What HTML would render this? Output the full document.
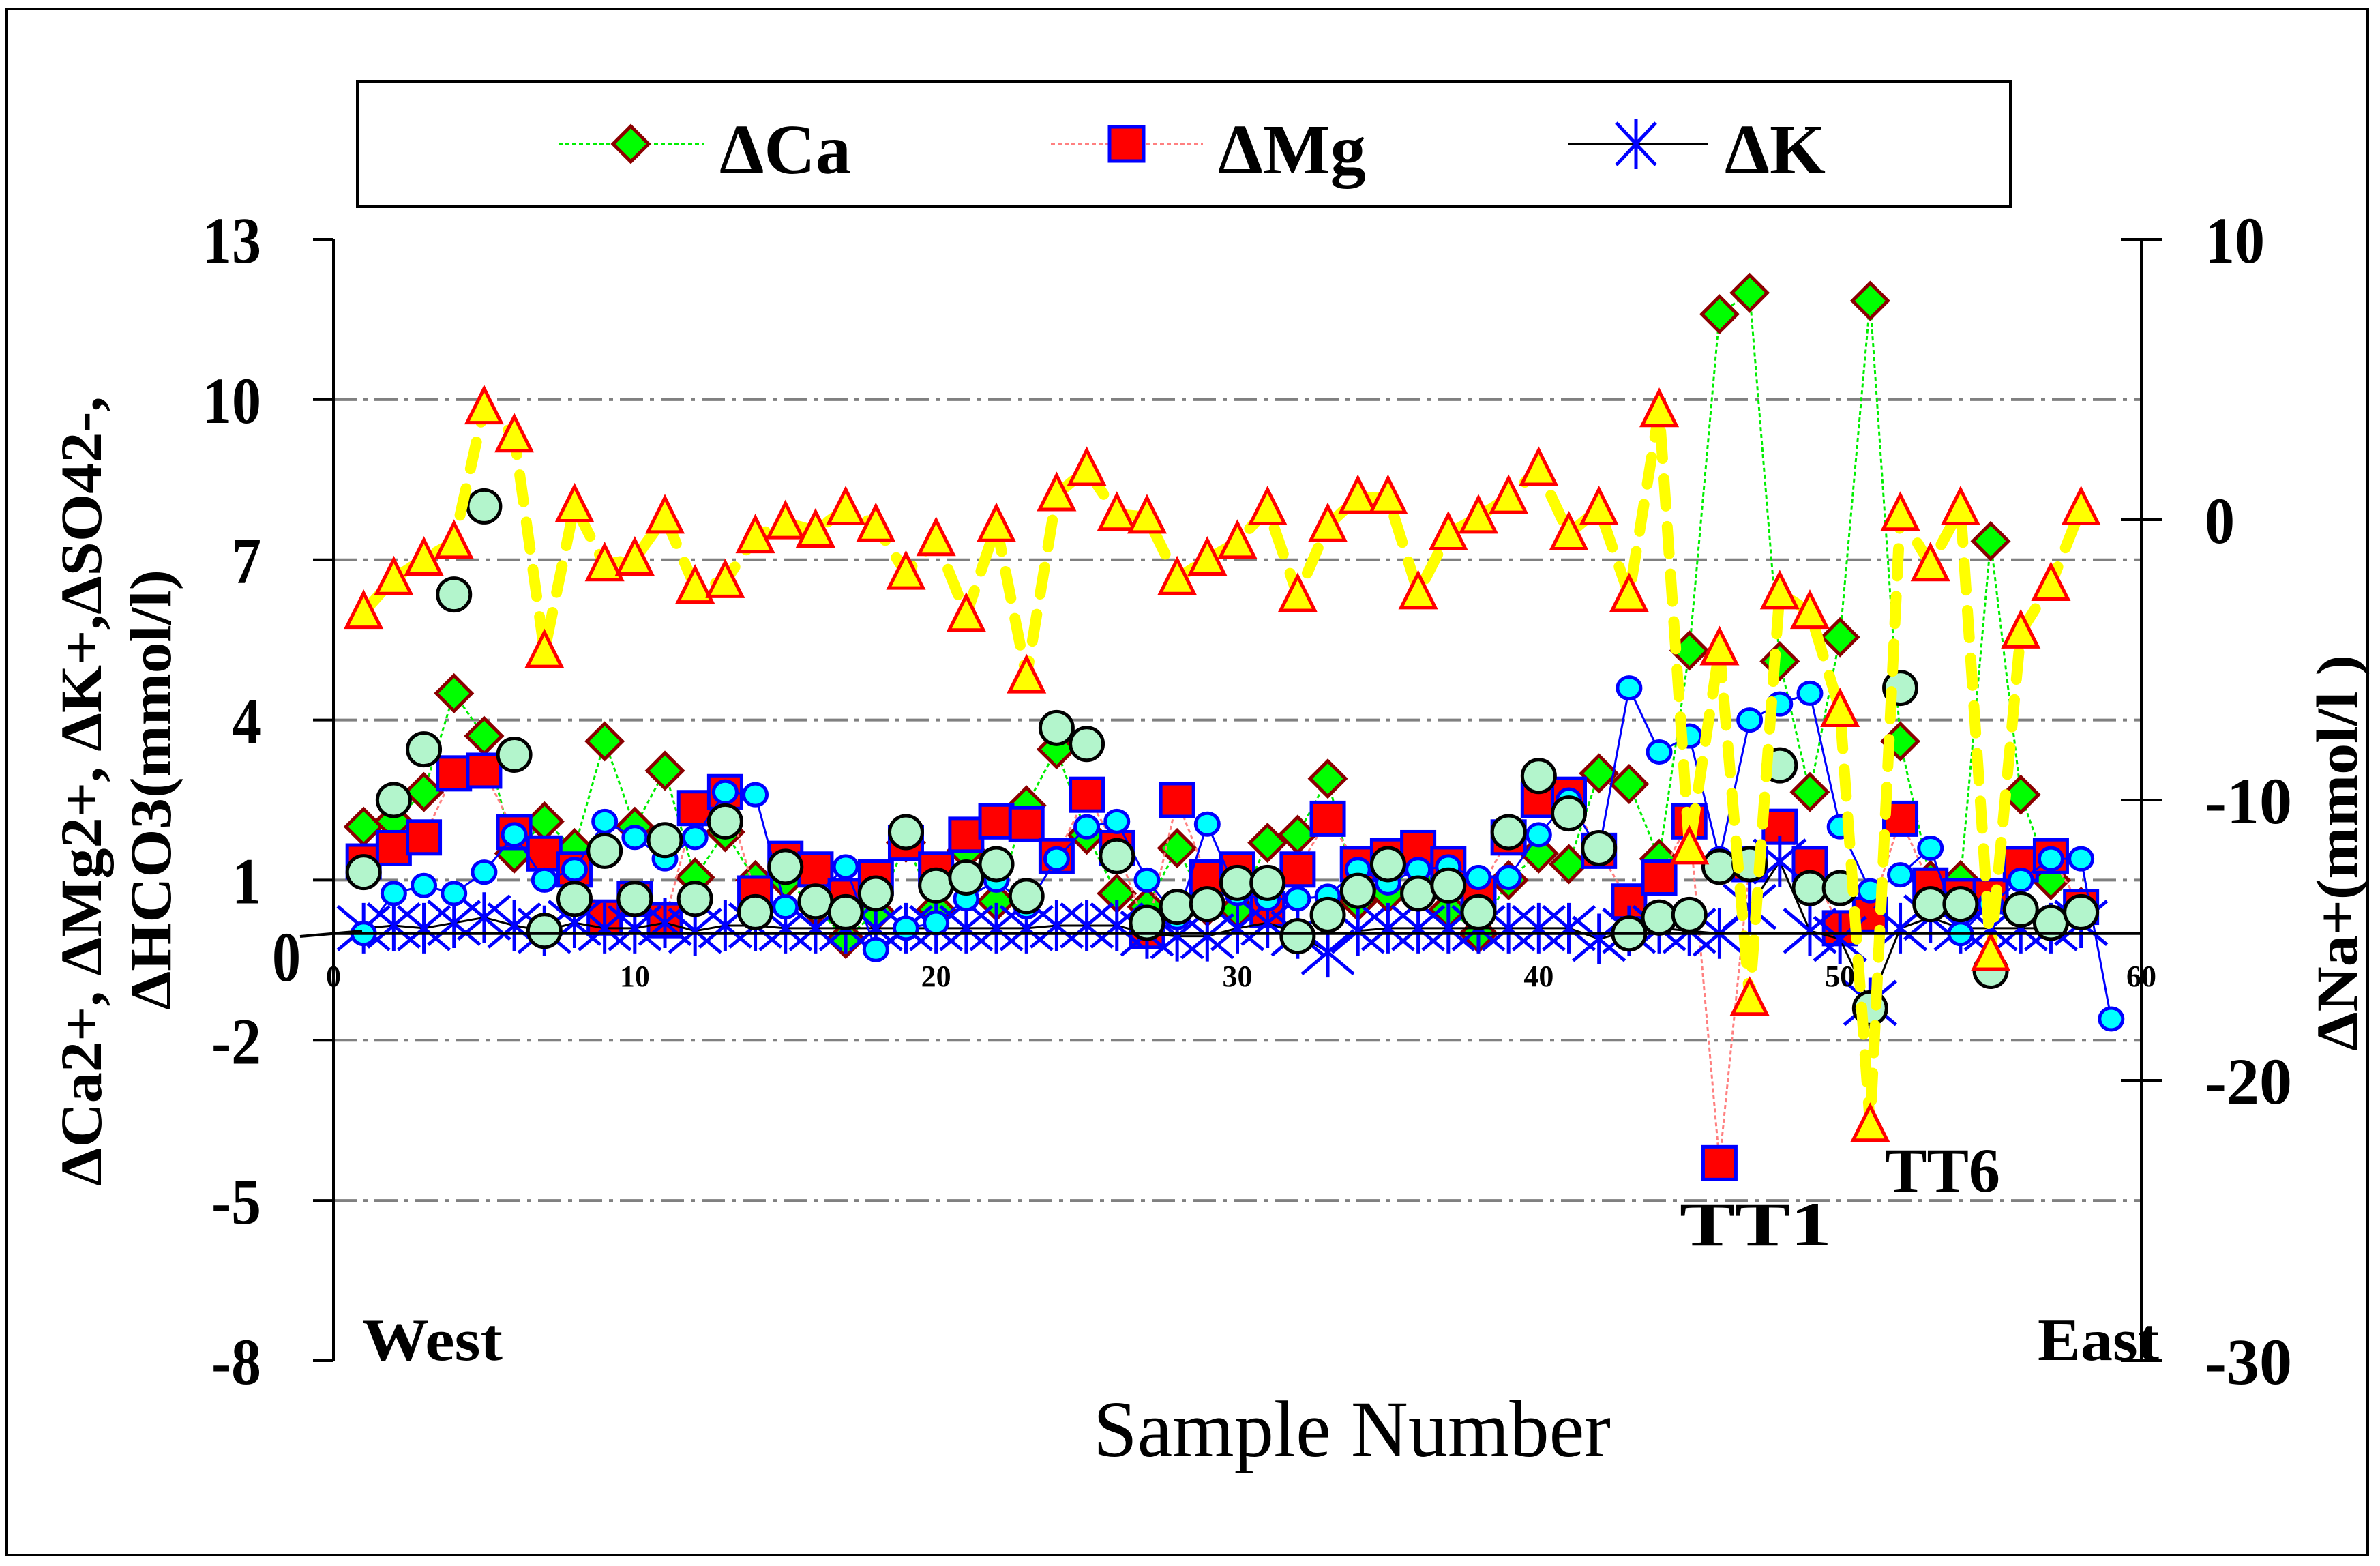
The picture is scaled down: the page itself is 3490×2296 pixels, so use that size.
<!DOCTYPE html>
<html><head><meta charset="utf-8"><style>
html,body{margin:0;padding:0;background:#fff}
svg{display:block}
text{font-family:"Liberation Serif",serif;fill:#000}
</style></head><body>
<svg id="chart" width="3490" height="2296" viewBox="0 0 3490 2296" xmlns="http://www.w3.org/2000/svg">
<rect x="10" y="13" width="3462" height="2267" fill="#fff" stroke="#000" stroke-width="4"/>
<g id="grid"></g>
<g id="series"></g>
<g id="axes"></g>
<g>
<rect x="524" y="120" width="2424" height="183" fill="#fff" stroke="#000" stroke-width="4"/>
<g>
<line x1="819" y1="211" x2="1032" y2="211" stroke="#00ee00" stroke-width="3" stroke-dasharray="6,4"/>
<polygon points="925,185 951,211 925,237 899,211" fill="#00ff00" stroke="#8b0000" stroke-width="5"/>
<text x="1055" y="254" font-size="104" font-weight="bold" textLength="193" lengthAdjust="spacingAndGlyphs">ΔCa</text></g>
<g>
<line x1="1541" y1="211" x2="1764" y2="211" stroke="#ff8080" stroke-width="3" stroke-dasharray="6,4"/>
<rect x="1627" y="186" width="50" height="50" fill="#ff0000" stroke="#0000ff" stroke-width="5"/>
<text x="1786" y="254" font-size="104" font-weight="bold" textLength="217" lengthAdjust="spacingAndGlyphs">ΔMg</text></g>
<g>
<line x1="2300" y1="211" x2="2505" y2="211" stroke="#000" stroke-width="3"/>
<g stroke="#0000ff" stroke-width="5"><line x1="2399" y1="174" x2="2399" y2="248"/><line x1="2370" y1="180" x2="2428" y2="242"/><line x1="2370" y1="242" x2="2428" y2="180"/></g>
<text x="2529" y="254" font-size="104" font-weight="bold" textLength="148" lengthAdjust="spacingAndGlyphs">ΔK</text></g>
</g>
<g font-weight="bold" font-size="86">
<text transform="translate(148,1739) rotate(-90)" textLength="1158" lengthAdjust="spacingAndGlyphs">ΔCa2+, ΔMg2+, ΔK+,ΔSO42-,</text>
<text transform="translate(250,1481) rotate(-90)" textLength="646" lengthAdjust="spacingAndGlyphs">ΔHCO3(mmol/l)</text>
</g>
<text transform="translate(3456,1541) rotate(-90)" textLength="581" lengthAdjust="spacingAndGlyphs" font-weight="bold" font-size="86">ΔNa+(mmol/l )</text>
<text x="1603" y="2135" font-size="118" textLength="759" lengthAdjust="spacingAndGlyphs">Sample Number</text>
<text x="531" y="1994" font-size="88" font-weight="bold" textLength="206" lengthAdjust="spacingAndGlyphs">West</text>
<text x="2988" y="1994" font-size="88" font-weight="bold" textLength="178" lengthAdjust="spacingAndGlyphs">East</text>
<text x="2463" y="1826" font-size="92" font-weight="bold" textLength="223" lengthAdjust="spacingAndGlyphs">TT1</text>
<text x="2764" y="1747" font-size="92" font-weight="bold" textLength="169" lengthAdjust="spacingAndGlyphs">TT6</text>
</svg>
<script>
const samples = [1,2,3,4,5,6,7,8,9,10,11,12,13,14,15,16,17,18,19,20,21,22,23,24,25,26,27,28,29,30,31,32,33,34,35,36,37,38,39,40,41,42,43,44,45,46,47,48,49,50,51,52,53,54,55,56,57,58];
const caValues = [2.0,2.1,2.65,4.5,3.7,1.5,2.1,1.6,3.6,2.0,3.05,1.05,1.9,1.0,1.0,0.5,-0.1,0.4,1.7,0.45,1.55,0.6,2.4,3.45,1.85,0.75,0.5,1.6,0.5,0.45,1.7,1.85,2.9,0.6,0.75,1.4,0.45,0.0,1.0,1.5,1.3,3.0,2.8,1.4,5.3,11.6,12.0,5.1,2.65,5.55,11.85,3.6,1.0,1.0,7.35,2.6,1.0,0.5];
const mgValues = [1.35,1.6,1.8,3.0,3.05,1.9,1.5,1.2,0.3,0.65,0.25,2.35,2.65,0.75,1.4,1.2,0.7,1.05,1.7,1.2,1.85,2.1,2.05,1.45,2.6,1.6,0.05,2.5,1.05,1.2,0.45,1.2,2.15,1.3,1.45,1.6,1.3,0.75,1.8,2.5,2.6,1.55,0.6,1.05,2.1,-4.3,1.3,2.0,1.3,0.1,0.35,2.15,0.9,0.7,0.7,1.3,1.45,0.5];
const kValues = [0.1,0.15,0.1,0.2,0.3,0.15,0.05,0.2,0.1,0.1,0.2,0.05,0.15,0.15,0.1,0.1,0.1,0.1,0.1,0.1,0.1,0.1,0.1,0.15,0.15,0.15,0.0,-0.05,-0.05,0.1,0.2,0,-0.35,0.05,0.1,0.1,0.1,0.1,0.1,0.1,0.1,-0.1,0.05,0.1,0.05,0.0,0.5,1.35,0.05,-0.1,-1.3,0.1,0.3,0.1,0.1,0.1,0.1,0.2];
const so4Samples = [1,2,3,4,5,6,7,8,9,10,11,12,13,14,15,16,17,18,19,20,21,22,23,24,25,26,27,28,29,30,31,32,33,34,35,36,37,38,39,40,41,42,43,44,45,46,47,48,49,50,51,52,53,54,55,56,57,58,59];
const so4Values = [0,0.75,0.9,0.75,1.15,1.85,1.0,1.2,2.1,1.8,1.4,1.8,2.65,2.6,0.5,0.7,1.25,-0.3,0.1,0.2,0.65,1.0,0.5,1.4,2.0,2.1,1.0,0.3,2.05,0.75,0.65,0.65,0.7,1.2,0.95,1.2,1.25,1.05,1.05,1.85,2.5,1.55,4.6,3.4,3.7,1.4,4.0,4.3,4.5,2.0,0.8,1.1,1.6,0.0,0.55,1.0,1.4,1.4,-1.6];
const hco3Values = [1.15,2.5,3.45,6.35,8.0,3.35,0.05,0.65,1.55,0.65,1.75,0.65,2.1,0.4,1.25,0.6,0.4,0.75,1.9,0.9,1.05,1.3,0.7,3.85,3.55,1.45,0.2,0.5,0.55,0.95,0.95,-0.05,0.35,0.8,1.3,0.75,0.9,0.4,1.9,2.95,2.25,1.6,0.0,0.3,0.35,1.25,1.3,3.15,0.85,0.85,-1.4,4.6,0.55,0.55,-0.7,0.45,0.2,0.4];
const naValues = [-3.3,-2.1,-1.4,-0.8,4.0,3.0,-4.7,0.5,-1.6,-1.4,0.1,-2.4,-2.2,-0.6,-0.1,-0.4,0.4,-0.2,-1.9,-0.7,-3.4,-0.2,-5.6,0.9,1.8,0.2,0.1,-2.1,-1.4,-0.8,0.4,-2.7,-0.2,0.8,0.8,-2.6,-0.5,0.1,0.8,1.8,-0.5,0.4,-2.7,3.9,-11.7,-4.6,-17.1,-2.6,-3.3,-6.8,-21.6,0.2,-1.6,0.4,-15.5,-4.0,-2.3,0.4];
const leftTicks = [13,10,7,4,1,-2,-5,-8];
const gridValues = [10,7,4,1,-2,-5];
const rightTicks = [10,0,-10,-20,-30];
const xTicks = [0,10,20,30,40,50,60];

const NS = "http://www.w3.org/2000/svg";
const X0 = 489, X1 = 3140, YTOP = 351, YBOT = 1995;
function xS(v){ return X0 + (v - 0) / 60 * (X1 - X0); }
function yL(v){ return YTOP + (13 - v) / 21 * (YBOT - YTOP); }
function yR(v){ return YTOP + (10 - v) / 40 * (YBOT - YTOP); }
function labelLen(s, dw, mw){ let w = 0; for (const c of String(s)) w += (c === '-' ? mw : dw); return w; }
function mk(tag, attrs, parent){
  const e = document.createElementNS(NS, tag);
  for (const k in attrs) e.setAttribute(k, attrs[k]);
  parent.appendChild(e); return e;
}
const grid = document.getElementById('grid');
const axes = document.getElementById('axes');
const series = document.getElementById('series');

gridValues.forEach(v => {
  const l = mk('line', {x1:X0, x2:X1, y1:yL(v), y2:yL(v), stroke:'#808080', 'stroke-width':4, 'stroke-dasharray':'34,10,6,10'}, grid);
  
  
});
const base = mk('line', {x1:X0, x2:X1, y1:yL(0), y2:yL(0), stroke:'#000', 'stroke-width':4}, axes);


const la = mk('line', {x1:X0, x2:X0, y1:YTOP, y2:YBOT, stroke:'#000', 'stroke-width':4}, axes);


const ra = mk('line', {x1:X1, x2:X1, y1:YTOP, y2:YBOT, stroke:'#000', 'stroke-width':4}, axes);


leftTicks.forEach(v => {
  const t = mk('line', {x1:X0-30, x2:X0, y1:yL(v), y2:yL(v), stroke:'#000', 'stroke-width':4}, axes);
  
  
  const w = labelLen(v, 43, 30);
  const tx = mk('text', {x:383 - w, y:yL(v)+34, 'font-size':96, 'font-weight':'bold', textLength:w, lengthAdjust:'spacingAndGlyphs'}, axes);
  tx.textContent = v;
  
  
});
const zl = mk('text', {x:399, y:1438, 'font-size':104, 'font-weight':'bold', textLength:42, lengthAdjust:'spacingAndGlyphs'}, axes);
zl.textContent = '0';


const zline = mk('line', {x1:440, y1:1373, x2:531, y2:1365, stroke:'#000', 'stroke-width':4}, axes);


rightTicks.forEach(v => {
  const t = mk('line', {x1:X1-30, x2:X1+30, y1:yR(v), y2:yR(v), stroke:'#000', 'stroke-width':4}, axes);
  
  
  const w = labelLen(v, 44, 40);
  const tx = mk('text', {x:3233, y:yR(v)+34, 'font-size':96, 'font-weight':'bold', textLength:w, lengthAdjust:'spacingAndGlyphs'}, axes);
  tx.textContent = v;
  
  
});
xTicks.forEach(v => {
  const tx = mk('text', {x:xS(v), y:1446, 'text-anchor':'middle', 'font-size':44, 'font-weight':'bold'}, axes);
  tx.textContent = v;
  
  
});

function pts(xs, ys, yf){ return xs.map((s,i) => xS(s) + ',' + yf(ys[i])).join(' '); }

const caG = mk('g', {}, series);


mk('polyline', {points:pts(samples, caValues, yL), fill:'none', stroke:'#00ee00', 'stroke-width':3, 'stroke-dasharray':'6,4'}, caG);
samples.forEach((s,i) => {
  const x = xS(s), y = yL(caValues[i]);
  const p = mk('polygon', {points:`${x},${y-26} ${x+26},${y} ${x},${y+26} ${x-26},${y}`, fill:'#00ff00', stroke:'#8b0000', 'stroke-width':5}, caG);
  
  
});
const mgG = mk('g', {}, series);


mk('polyline', {points:pts(samples, mgValues, yL), fill:'none', stroke:'#ff8080', 'stroke-width':3, 'stroke-dasharray':'6,4'}, mgG);
samples.forEach((s,i) => {
  const r = mk('rect', {x:xS(s)-24, y:yL(mgValues[i])-24, width:48, height:48, fill:'#ff0000', stroke:'#0000ff', 'stroke-width':5}, mgG);
  
  
});
const kG = mk('g', {}, series);


mk('polyline', {points:pts(samples, kValues, yL), fill:'none', stroke:'#000', 'stroke-width':3}, kG);
samples.forEach((s,i) => {
  const x = xS(s), y = yL(kValues[i]);
  const g = mk('g', {stroke:'#0000ff', 'stroke-width':5}, kG);
  
  
  mk('line', {x1:x, x2:x, y1:y-37, y2:y+37}, g);
  mk('line', {x1:x-38, x2:x+38, y1:y-32, y2:y+32}, g);
  mk('line', {x1:x-38, x2:x+38, y1:y+32, y2:y-32}, g);
});
const soG = mk('g', {}, series);


mk('polyline', {points:pts(so4Samples, so4Values, yL), fill:'none', stroke:'#0000ff', 'stroke-width':3}, soG);
so4Samples.forEach((s,i) => {
  const c = mk('ellipse', {cx:xS(s), cy:yL(so4Values[i]), rx:17, ry:16, fill:'#00ffff', stroke:'#0000ff', 'stroke-width':5}, soG);
  
  
});
const hcG = mk('g', {}, series);


samples.forEach((s,i) => {
  const c = mk('ellipse', {cx:xS(s), cy:yL(hco3Values[i]), rx:24, ry:24, fill:'#b3f5cc', stroke:'#000', 'stroke-width':5}, hcG);
  
  
});
const naG = mk('g', {}, series);


mk('polyline', {points:pts(samples, naValues, yR), fill:'none', stroke:'#ffff00', 'stroke-width':16, 'stroke-dasharray':'40,30', 'stroke-linecap':'round', 'stroke-linejoin':'round'}, naG);
samples.forEach((s,i) => {
  const x = xS(s), y = yR(naValues[i]);
  const p = mk('polygon', {points:`${x},${y-28} ${x+25},${y+22} ${x-25},${y+22}`, fill:'#ffff00', stroke:'#ff0000', 'stroke-width':5}, naG);
  
  
});
</script>
</body></html>
